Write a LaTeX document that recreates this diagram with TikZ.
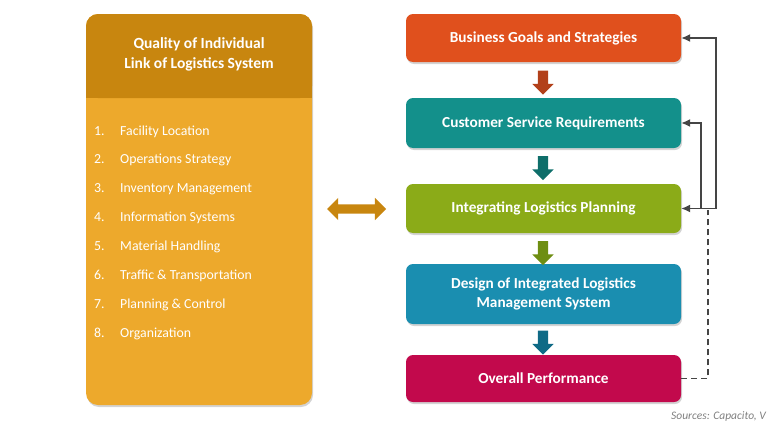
\documentclass[tikz,border=0pt]{standalone}
\usepackage{fontspec}
\setmainfont{Carlito}
\usetikzlibrary{shapes.arrows,shadows,positioning,arrows.meta}

\definecolor{panelhead}{HTML}{C8860F}
\definecolor{panelbody}{HTML}{EDA92C}
\definecolor{goalred}{HTML}{E0501D}
\definecolor{goaldark}{HTML}{B2401A}
\definecolor{custteal}{HTML}{13908B}
\definecolor{custdark}{HTML}{0E6E6A}
\definecolor{integgreen}{HTML}{8BAB18}
\definecolor{integdark}{HTML}{6E8E12}
\definecolor{designblue}{HTML}{1A8EB0}
\definecolor{designdark}{HTML}{0F6A86}
\definecolor{perfred}{HTML}{C2094C}
\definecolor{feedgray}{HTML}{454545}

\begin{document}
\begin{tikzpicture}[x=1pt,y=-1pt,
    stepbox/.style={rectangle,rounded corners=7pt,minimum width=275pt,
      text=white,align=center,inner sep=2pt,
      font=\bfseries\fontsize{15.3}{19}\selectfont,
      drop shadow={opacity=0.35,shadow xshift=1pt,shadow yshift=-2pt}},
    downarrow/.style={single arrow,shape border rotate=270,inner sep=5pt,
      minimum height=24pt,single arrow head extend=5.5pt},
    listitem/.style={anchor=base west,inner sep=0pt,text=white,font=\fontsize{13.8}{16}\selectfont},
    feedback/.style={draw=feedgray,line width=1.4pt,-{Latex[length=9pt,width=8pt]}}]

  \useasboundingbox (0,0) rectangle (768,423);

  % left panel
  \fill[panelbody,rounded corners=12pt,
    drop shadow={opacity=0.35,shadow xshift=1pt,shadow yshift=-2pt}]
    (86,14) rectangle (312,405);
  \fill[panelhead,rounded corners=12pt] (86,98) -- (86,14) -- (312,14) -- (312,98) -- cycle;
  \fill[panelhead] (86,80) rectangle (312,98);
  \node[text=white,align=center,font=\bfseries\fontsize{15.5}{20}\selectfont] (head) at (199,54)
    {Quality of Individual\\Link of Logistics System};

  \foreach \n/\txt [count=\i from 0] in {1/Facility Location,2/Operations Strategy,
      3/Inventory Management,4/Information Systems,5/Material Handling,
      6/Traffic \& Transportation,7/Planning \& Control,8/Organization}{
    \node[listitem] (num\n) at (94,135+28.9*\i) {\n.};
    \node[listitem] (item\n) at (120,135+28.9*\i) {\txt};
  }

  % link arrow
  \node[double arrow,fill=panelhead,inner sep=4.5pt,minimum height=59pt,
    double arrow head extend=6.5pt] (link) at (356.5,209) {};

  % right column
  \node[stepbox,fill=goalred,minimum height=48pt] (goals) at (543.5,38) {Business Goals and Strategies};
  \node[stepbox,fill=custteal,minimum height=50pt] (cust) at (543.5,123) {Customer Service Requirements};
  \node[stepbox,fill=integgreen,minimum height=49pt] (integ) at (543.5,208.5) {Integrating Logistics Planning};
  \node[stepbox,fill=designblue,minimum height=60pt] (design) at (543.5,294) {Design of Integrated Logistics\\Management System};
  \node[stepbox,fill=perfred,minimum height=47pt] (perf) at (543.5,378.5) {Overall Performance};

  \node[downarrow,fill=goaldark] (a1) at (543,80) {};
  \node[downarrow,fill=custdark] (a2) at (543,165.5) {};
  \node[downarrow,fill=integdark] (a3) at (543,250.5) {};
  \node[downarrow,fill=designdark] (a4) at (543,340) {};

  % feedback loops
  \coordinate (outer) at (716,208.5);
  \coordinate (inner) at (701,208.5);
  \coordinate (dash) at (708,210);
  \draw[feedback] (outer) |- (goals.east);
  \draw[feedback] (inner) |- (cust.east);
  \draw[feedback] (outer) -- (integ.east);
  \draw[feedgray,line width=1.4pt,dash pattern=on 6pt off 4pt] (perf.east) -| (dash);

  \node[anchor=base west,inner sep=0pt,text=gray,font=\itshape\fontsize{11.5}{13}\selectfont] (src) at (671,419.5)
    {Sources: Capacito, V};
\end{tikzpicture}
\end{document}
